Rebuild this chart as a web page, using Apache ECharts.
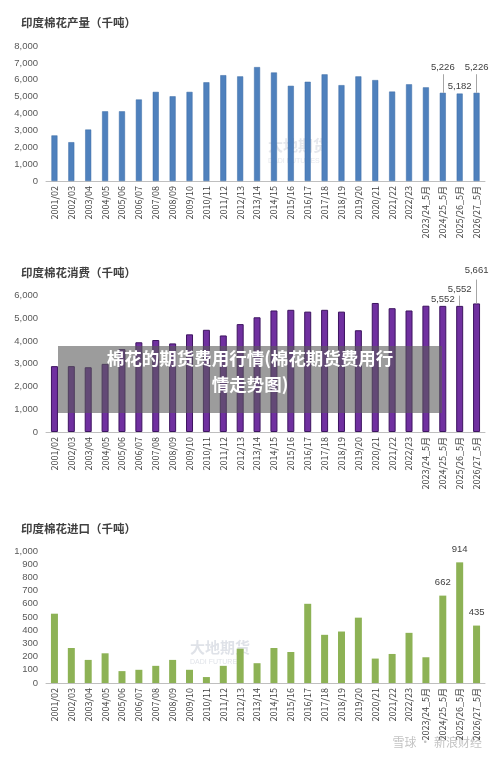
<!DOCTYPE html><html><head><meta charset="utf-8"><script src="https://cdn.jsdelivr.net/npm/echarts@6/dist/echarts.min.js"></script>
<style>body{margin:0}#c{width:500px;height:759px}</style></head><body><div id="c"></div><script>
const categories=['2001/02','2002/03','2003/04','2004/05','2005/06','2006/07','2007/08','2008/09','2009/10','2010/11','2011/12','2012/13','2013/14','2014/15','2015/16','2016/17','2017/18','2018/19','2019/20','2020/21','2021/22','2022/23','2023/24_5月','2024/25_5月','2025/26_5月','2026/27_5月'];
const production=[2700,2300,3050,4130,4130,4830,5280,5020,5280,5850,6270,6200,6750,6430,5640,5880,6320,5680,6200,5980,5300,5730,5550,5226,5182,5226];
const consumption=[2900,2900,2850,3000,3650,3950,4050,3900,4300,4500,4250,4750,5050,5350,5380,5300,5380,5300,4480,5680,5450,5350,5560,5552,5552,5661];
const imports=[525,265,175,225,90,100,130,175,100,45,130,260,150,265,235,600,365,390,495,185,220,380,195,662,914,435];
const titles=['印度棉花产量（千吨）','印度棉花消费（千吨）','印度棉花进口（千吨）'];
const ch=echarts.init(document.getElementById('c'));
const F='"Noto Sans CJK SC",sans-serif';
const grids=[{top:46,bottom:578,left:46,right:15},{top:273,bottom:327,left:46,right:15},{top:551,bottom:76,left:46,right:15}];
const axX=i=>({type:'category',gridIndex:i,data:categories,axisTick:{show:false},axisLine:{lineStyle:{color:'#bfbfbf'}},axisLabel:{rotate:90,fontSize:9,color:'#404040',fontFamily:F,interval:0,margin:5}});
const axY=(i,max,int,hideMax)=>({type:'value',gridIndex:i,min:0,max:max,interval:int,splitLine:{show:false},axisLabel:{showMaxLabel:!hideMax,fontSize:9.5,color:'#595959',formatter:v=>v.toLocaleString('en-US')}});
function lab(vals,idx,pos){return vals.map((v,i)=>idx.includes(i)?{value:v,label:{show:true,position:'top',distance:pos[idx.indexOf(i)],fontSize:9.5,color:'#404040',formatter:p=>p.value.toLocaleString('en-US')}}:v);}
function lines(vals,idx,off){return {symbol:'none',silent:true,label:{show:false},lineStyle:{color:'#a6a6a6',type:'solid',width:1},data:idx.map((i,k)=>[{coord:[i,vals[i]]},{coord:[i,vals[i]+off[k]]}])};}
ch.setOption({
animation:false,
title:titles.map((t,i)=>({text:t,left:16,top:[12,262,518][i],textStyle:{fontSize:11.5,fontWeight:'bold',color:'#404040',fontFamily:F}})),
grid:grids,
xAxis:[axX(0),axX(1),axX(2)],
yAxis:[axY(0,8000,1000),axY(1,7000,1000,true),axY(2,1000,100)],
series:[
{type:'bar',xAxisIndex:0,yAxisIndex:0,barWidth:6,itemStyle:{color:'#4f81bd',borderColor:'#3a6aa5',borderWidth:0.5},data:lab(production,[23,24,25],[20,2,20]),markLine:lines(production,[23,25],[1100,1100])},
{type:'bar',xAxisIndex:1,yAxisIndex:1,barWidth:7,itemStyle:{color:'#7030a0',borderColor:'#3d1460',borderWidth:1},data:lab(consumption,[23,24,25],[2,12,28]),markLine:lines(consumption,[24,25],[450,1050])},
{type:'bar',xAxisIndex:2,yAxisIndex:2,barWidth:7,itemStyle:{color:'#8db255'},data:lab(imports,[23,24,25],[8,8,8])}
],
graphic:[
{type:'text',left:268,top:138,style:{text:'大地期货',fontSize:15,fontWeight:'bold',fill:'rgba(150,160,180,0.25)',fontFamily:F}},
{type:'text',left:268,top:158,style:{text:'DADI FUTURES',fontSize:7,fill:'rgba(150,160,180,0.25)'}},
{type:'text',left:190,top:640,style:{text:'大地期货',fontSize:15,fontWeight:'bold',fill:'rgba(150,160,180,0.3)',fontFamily:F}},
{type:'text',left:190,top:659,style:{text:'DADI FUTURES',fontSize:7,fill:'rgba(150,160,180,0.3)'}},
{type:'text',right:18,top:736,style:{text:'雪球 · 新浪财经',fontSize:12,fill:'rgba(120,120,120,0.45)',fontFamily:F}},
{type:'rect',z:100,left:58,top:346,shape:{width:384,height:67},style:{fill:'rgba(90,90,90,0.6)'}},
{type:'text',z:101,left:'center',top:350,style:{text:'棉花的期货费用行情(棉花期货费用行',fontSize:17.5,fontWeight:'bold',fill:'#fff',fontFamily:F}},
{type:'text',z:101,left:'center',top:376,style:{text:'情走势图)',fontSize:17.5,fontWeight:'bold',fill:'#fff',fontFamily:F}}
]});
</script></body></html>
